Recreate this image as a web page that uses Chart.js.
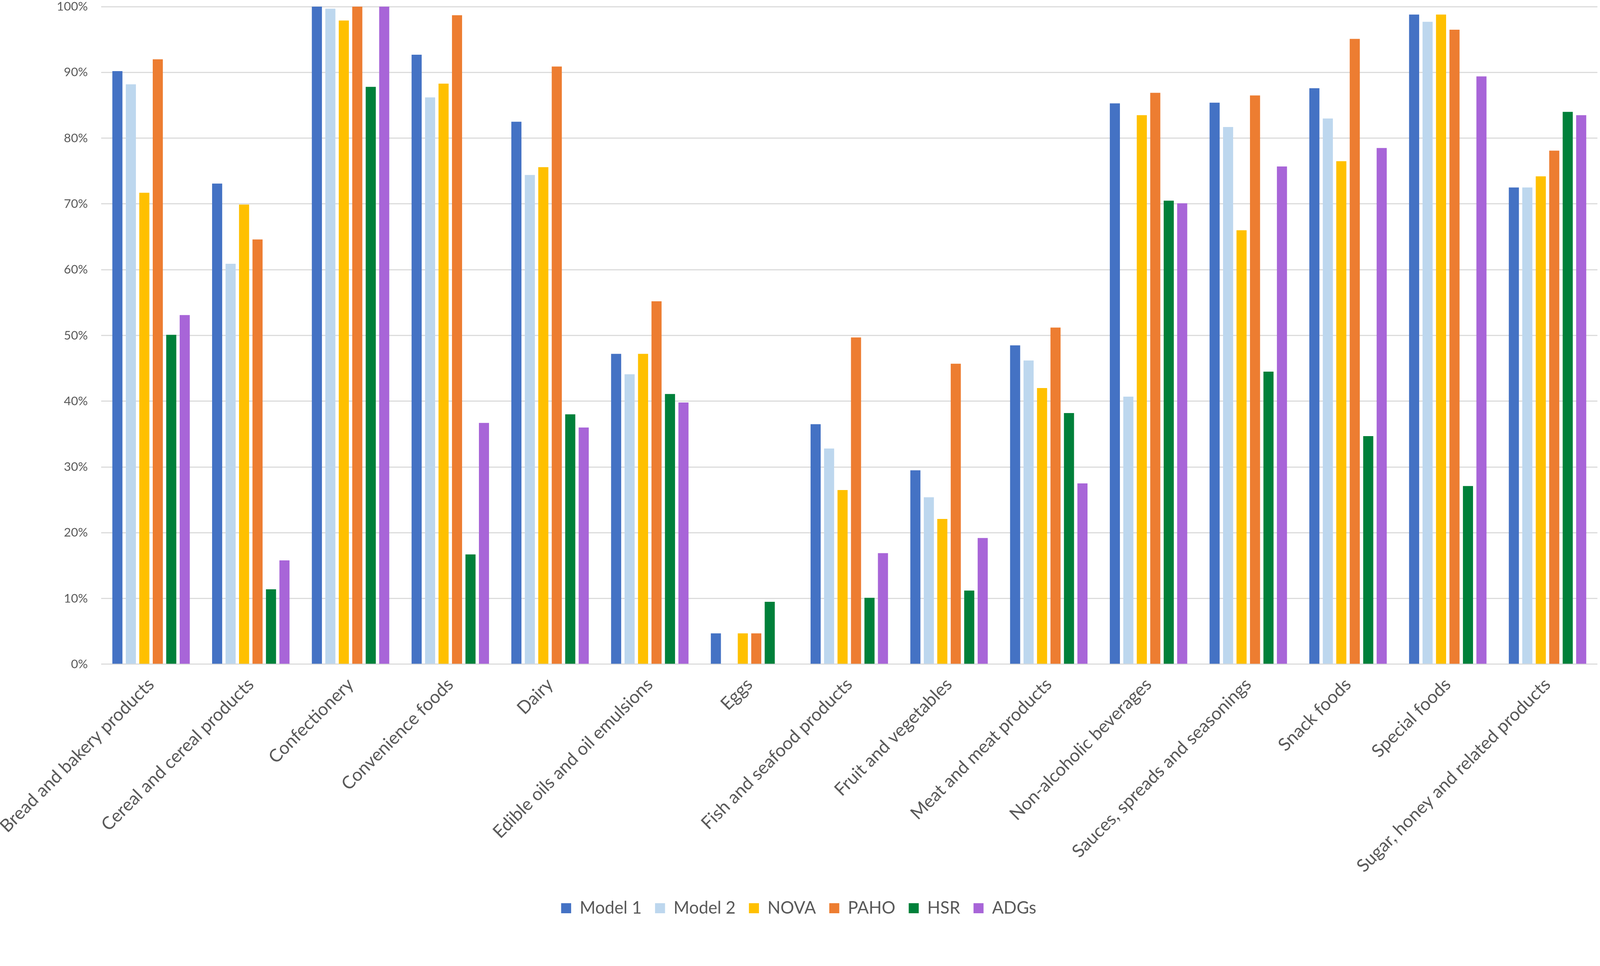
<!DOCTYPE html>
<html lang="en">
  <head>
    <meta charset="UTF-8" />
    <title>Food categories by model</title>
    <script src="https://cdn.jsdelivr.net/npm/chart.js"></script>
    <style>
      html,
      body {
        margin: 0;
        padding: 0;
        background: #fff;
        overflow: hidden;
      }
      canvas {
        display: block;
      }
    </style>
  </head>
  <body>
    <canvas id="barChart"></canvas>
    <script>
      const categories = [
        "Bread and bakery products",
        "Cereal and cereal products",
        "Confectionery",
        "Convenience foods",
        "Dairy",
        "Edible oils and oil emulsions",
        "Eggs",
        "Fish and seafood products",
        "Fruit and vegetables",
        "Meat and meat products",
        "Non-alcoholic beverages",
        "Sauces, spreads and seasonings",
        "Snack foods",
        "Special foods",
        "Sugar, honey and related products",
      ];

      const model1 = [90.2, 73.1, 100, 92.7, 82.5, 47.2, 4.7, 36.5, 29.5, 48.5, 85.3, 85.4, 87.6, 98.8, 72.5];
      const model2 = [88.2, 60.9, 99.7, 86.2, 74.4, 44.1, 0, 32.8, 25.4, 46.2, 40.7, 81.7, 83.0, 97.7, 72.5];
      const nova = [71.7, 69.9, 97.9, 88.3, 75.6, 47.2, 4.7, 26.5, 22.1, 42.0, 83.5, 66.0, 76.5, 98.8, 74.2];
      const paho = [92.0, 64.6, 100, 98.7, 90.9, 55.2, 4.7, 49.7, 45.7, 51.2, 86.9, 86.5, 95.1, 96.5, 78.1];
      const hsr = [50.1, 11.4, 87.8, 16.7, 38.0, 41.1, 9.5, 10.1, 11.2, 38.2, 70.5, 44.5, 34.7, 27.1, 84.0];
      const adgs = [53.1, 15.8, 100, 36.7, 36.0, 39.8, 0, 16.9, 19.2, 27.5, 70.1, 75.7, 78.5, 89.4, 83.5];

      const seriesNames = ["Model 1", "Model 2", "NOVA", "PAHO", "HSR", "ADGs"];
      const seriesColors = ["#4472C4", "#BDD7EE", "#FFC000", "#ED7D31", "#00803A", "#A865D8"];
      const seriesData = [model1, model2, nova, paho, hsr, adgs];

      const textColor = "#595959";
      const fontFamily = "Lato, 'Open Sans', sans-serif";

      // the layout was measured on a 4317x2472 picture; scale it to the window
      const k = Math.min(window.innerWidth / 4317, window.innerHeight / 2472);
      const px = (v) => v * k;
      const legendHeight = px(81);

      const canvas = document.getElementById("barChart");
      canvas.style.width = px(4317) + "px";
      canvas.style.height = px(2472) + "px";

      // keep the legend strip short while still spacing the items apart
      const legendFit = {
        id: "legendFit",
        beforeInit(chart) {
          const fit = chart.legend.fit;
          chart.legend.fit = function () {
            fit.call(this);
            this.height = legendHeight;
          };
        },
      };

      new Chart(canvas.getContext("2d"), {
        type: "bar",
        data: {
          labels: categories,
          datasets: seriesNames.map((name, i) => ({
            label: name,
            data: seriesData[i],
            backgroundColor: seriesColors[i],
            borderWidth: 0,
            categoryPercentage: 0.81,
            barPercentage: 0.75,
          })),
        },
        options: {
          responsive: false,
          animation: false,
          layout: {
            padding: { top: px(18), right: px(7), bottom: 0, left: 0 },
          },
          scales: {
            x: {
              grid: { display: false },
              border: { display: false },
              ticks: {
                color: textColor,
                font: { family: fontFamily, size: px(48) },
                maxRotation: 45,
                minRotation: 45,
                padding: px(18),
                autoSkip: false,
              },
              afterFit(scale) {
                scale.height = px(2472 - 1792) - legendHeight;
                scale.paddingLeft = 0;
                scale.paddingRight = 0;
              },
            },
            y: {
              min: 0,
              max: 100,
              grid: {
                color: "#D9D9D9",
                lineWidth: px(3),
                drawTicks: false,
              },
              border: { display: false },
              ticks: {
                stepSize: 10,
                color: textColor,
                padding: px(36),
                font: { family: fontFamily, size: px(33) },
                callback: (v) => v + "%",
              },
              afterFit(scale) {
                scale.width = px(273);
                scale.paddingTop = 0;
                scale.paddingBottom = 0;
              },
            },
          },
          plugins: {
            legend: {
              position: "bottom",
              labels: {
                color: textColor,
                font: { family: fontFamily, size: px(46) },
                boxWidth: px(27),
                boxHeight: px(27),
                padding: px(36),
              },
            },
            tooltip: { enabled: false },
          },
        },
        plugins: [legendFit],
      });
    </script>
  </body>
</html>
